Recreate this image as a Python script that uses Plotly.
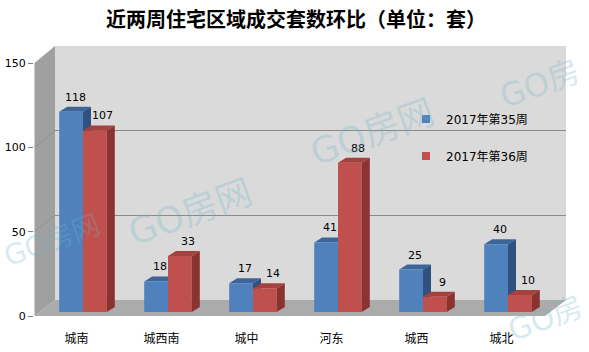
import plotly.graph_objects as go

# ---------------- data ----------------
categories = ["城南", "城西南", "城中", "河东", "城西", "城北"]
week35 = [118, 18, 17, 41, 25, 40]
week36 = [107, 33, 14, 88, 9, 10]
series_names = ["2017年第35周", "2017年第36周"]
y_ticks = [0, 50, 100, 150]
title_text = "近两周住宅区域成交套数环比（单位：套）"

# ---------------- styling ----------------
W, H = 589, 352
BLUE, BLUE_TOP, BLUE_SIDE = "#4F81BD", "#3C659A", "#2E5180"
RED, RED_TOP, RED_SIDE = "#C0504D", "#A5423F", "#8A3330"
WALL, SIDE_WALL, FLOOR, GRID = "#DADADA", "#A0A0A0", "#ABABAB", "#8A8A8A"
NUM_FONT = "DejaVu Sans, Noto Sans CJK SC"
CJK_FONT = "Noto Sans CJK SC"


def fx(px):
    return px / W


def fy(py):
    return (H - py) / H


BAR_W = 0.28
DX = 8 / 85.0                 # depth offset in x2 units
DY = 5 * 150 / 254.5          # depth offset in y2 units

fig = go.Figure()

x_idx = list(range(len(categories)))
blue_x = [i - BAR_W / 2 for i in x_idx]
red_x = [i + BAR_W / 2 for i in x_idx]

# helper (empty) traces so that the grid subplot and the front-axis subplot are drawn
fig.add_trace(go.Scatter(x=[None], y=[None], mode="markers", showlegend=False, hoverinfo="skip",
                         xaxis="x", yaxis="y"))
fig.add_trace(go.Scatter(x=[None], y=[None], mode="markers", showlegend=False, hoverinfo="skip",
                         xaxis="x3", yaxis="y3"))

fig.add_trace(go.Bar(x=blue_x, y=week35, width=BAR_W, marker=dict(color=BLUE, line=dict(width=0)),
                     name=series_names[0], showlegend=False, xaxis="x2", yaxis="y2", hoverinfo="y"))
fig.add_trace(go.Bar(x=red_x, y=week36, width=BAR_W, marker=dict(color=RED, line=dict(width=0)),
                     name=series_names[1], showlegend=False, xaxis="x2", yaxis="y2", hoverinfo="y"))

# legend entries (square markers)
fig.add_trace(go.Scatter(x=[None], y=[None], mode="markers", name=series_names[0],
                         marker=dict(symbol="square", size=8, color=BLUE),
                         xaxis="x2", yaxis="y2", legend="legend"))
fig.add_trace(go.Scatter(x=[None], y=[None], mode="markers", name=series_names[1],
                         marker=dict(symbol="square", size=8, color=RED),
                         xaxis="x2", yaxis="y2", legend="legend2"))

shapes = []
# back wall, side wall, floor (decoration, paper coords)
shapes.append(dict(type="rect", xref="paper", yref="paper", x0=fx(55), x1=fx(566), y0=fy(300), y1=fy(46),
                   fillcolor=WALL, line=dict(width=0), layer="below"))
shapes.append(dict(type="path", xref="paper", yref="paper",
                   path=f"M{fx(34.5)},{fy(63)} L{fx(55)},{fy(46)} L{fx(55)},{fy(300)} L{fx(34.5)},{fy(316)} Z",
                   fillcolor=SIDE_WALL, line=dict(width=0), layer="below"))
shapes.append(dict(type="path", xref="paper", yref="paper",
                   path=f"M{fx(34.5)},{fy(316)} L{fx(55)},{fy(300)} L{fx(566)},{fy(300)} L{fx(545)},{fy(316)} Z",
                   fillcolor=FLOOR, line=dict(width=0), layer="below"))
# grid continuation on side wall
for v in y_ticks[1:3]:
    yf = 316 - v * 253 / 150
    yb = 300 - v * 254 / 150
    shapes.append(dict(type="line", xref="paper", yref="paper", x0=fx(34.5), y0=fy(yf), x1=fx(55), y1=fy(yb),
                       line=dict(color="#909090", width=1), layer="below"))

# 3D faces of the bars
for xs, vals, top_c, side_c, layer in [(blue_x, week35, BLUE_TOP, BLUE_SIDE, "below"),
                                       (red_x, week36, RED_TOP, RED_SIDE, "above")]:
    for xc, v in zip(xs, vals):
        L, R = xc - BAR_W / 2, xc + BAR_W / 2
        shapes.append(dict(type="path", xref="x2", yref="y2", layer=layer, line=dict(width=0), fillcolor=top_c,
                           path=f"M{L},{v} L{L+DX},{v+DY} L{R+DX},{v+DY} L{R},{v} Z"))
        shapes.append(dict(type="path", xref="x2", yref="y2", layer=layer, line=dict(width=0), fillcolor=side_c,
                           path=f"M{R},0 L{R},{v} L{R+DX},{v+DY} L{R+DX},{DY} Z"))

annotations = []
# title
annotations.append(dict(text=f"<b>{title_text}</b>", x=fx(296), y=fy(18), xref="paper", yref="paper",
                        showarrow=False, font=dict(family=CJK_FONT, size=20, color="#000"),
                        xanchor="center", yanchor="middle"))
# data labels
for xs, vals, sh in [(blue_x, week35, 4), (red_x, week36, 8)]:
    for xc, v in zip(xs, vals):
        annotations.append(dict(text=str(v), x=xc, y=v, xref="x2", yref="y2", showarrow=False,
                                xanchor="center", yanchor="bottom", yshift=6, xshift=sh,
                                font=dict(family=NUM_FONT, size=11, color="#000")))
# watermarks
for (wx, wy, wt, ws) in [(52, 240, "GO房网", 28), (190, 212, "GO房网", 36), (372, 132, "GO房网", 36),
                         (540, 84, "GO房", 32), (545, 318, "GO房", 30)]:
    annotations.append(dict(text=wt, x=fx(wx), y=fy(wy), xref="paper", yref="paper", showarrow=False,
                            xanchor="center", yanchor="middle",
                            textangle=-20, font=dict(family="DejaVu Sans, Noto Sans CJK SC", size=ws,
                                                     color="rgba(110,180,200,0.28)")))

fig.update_layout(
    width=W, height=H,
    margin=dict(l=0, r=0, t=0, b=0, pad=0, autoexpand=False),
    paper_bgcolor="white", plot_bgcolor="rgba(0,0,0,0)",
    barmode="overlay",
    shapes=shapes, annotations=annotations,
    # grid on the back wall
    xaxis=dict(domain=[fx(55), fx(566)], range=[0, 1], visible=False, fixedrange=True, anchor="y"),
    yaxis=dict(domain=[fy(300), fy(46)], range=[0, 150], tickvals=y_ticks, showgrid=True,
               gridcolor=GRID, gridwidth=1, showticklabels=False, ticks="", zeroline=False,
               showline=False, anchor="x"),
    # bars
    xaxis2=dict(domain=[fx(40.5), fx(550.5)], range=[-0.5, 5.5], visible=False, anchor="y2"),
    yaxis2=dict(domain=[fy(312), fy(57.5)], range=[0, 150], visible=False, anchor="x2"),
    # front axis: tick labels
    xaxis3=dict(domain=[fx(34), fx(544)], range=[-0.5, 5.5], tickvals=x_idx, ticktext=categories,
                showgrid=False, zeroline=False, showline=False, ticks="outside", ticklen=12,
                tickcolor="rgba(0,0,0,0)", tickfont=dict(family=CJK_FONT, size=12, color="#000"),
                anchor="y3", automargin=False),
    yaxis3=dict(domain=[fy(316), fy(63)], range=[0, 150], tickvals=y_ticks, showgrid=False,
                zeroline=False, showline=False, ticks="outside", ticklen=5, tickcolor="#808080",
                tickfont=dict(family=NUM_FONT, size=11, color="#000"), anchor="x3", automargin=False),
    legend=dict(x=fx(406), y=fy(119), xanchor="left", yanchor="middle", bgcolor="rgba(0,0,0,0)",
                font=dict(family=NUM_FONT, size=12, color="#000"), itemwidth=30),
    legend2=dict(x=fx(406), y=fy(156), xanchor="left", yanchor="middle", bgcolor="rgba(0,0,0,0)",
                 font=dict(family=NUM_FONT, size=12, color="#000"), itemwidth=30),
)

fig.write_html("out.html")
